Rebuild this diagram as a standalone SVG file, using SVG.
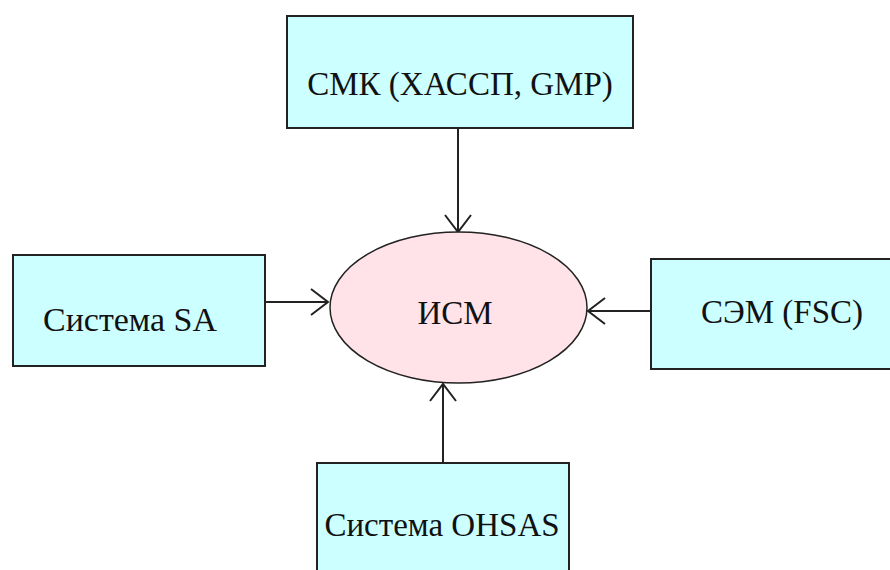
<svg xmlns="http://www.w3.org/2000/svg" width="890" height="570" viewBox="0 0 890 570">
  <defs>
    <marker id="v" markerUnits="userSpaceOnUse" markerWidth="40" markerHeight="40" viewBox="-20 -20 40 40" refX="0" refY="0" orient="auto" overflow="visible">
      <path d="M-17,-13 L0,0 L-17,13" fill="none" stroke="#222" stroke-width="2"/>
    </marker>
  </defs>
  <style>
    .box { fill: #ccffff; stroke: #222; stroke-width: 2; }
    .ell { fill: #ffe3e8; stroke: #222; stroke-width: 1.5; }
    .lbl { font-family: "Liberation Serif", "Times New Roman", serif; font-size: 33px; fill: #111; text-anchor: middle; }
    .edge { stroke: #222; stroke-width: 2; fill: none; marker-end: url(#v); }
  </style>
  <rect width="890" height="570" fill="#ffffff"/>
  <g id="connectors">
    <line class="edge" x1="458" y1="128" x2="458" y2="232"/>
    <line class="edge" x1="265" y1="302" x2="328" y2="302"/>
    <line class="edge" x1="651" y1="311" x2="588" y2="311"/>
    <line class="edge" x1="443" y1="463" x2="443" y2="384"/>
  </g>
  <g id="n_top">
    <rect class="box" x="287" y="16" width="346" height="112"/>
    <text class="lbl" x="460" y="95">СМК (ХАССП, GMP)</text>
  </g>
  <g id="n_left">
    <rect class="box" x="13" y="255" width="252" height="111"/>
    <text class="lbl" x="130" y="331" textLength="174" lengthAdjust="spacingAndGlyphs">Система SA</text>
  </g>
  <g id="n_center">
    <ellipse class="ell" cx="458.5" cy="307.5" rx="128.5" ry="75.5"/>
    <text class="lbl" x="455" y="324">ИСМ</text>
  </g>
  <g id="n_right">
    <rect class="box" x="651" y="259" width="250" height="110"/>
    <text class="lbl" x="782" y="323">СЭМ (FSC)</text>
  </g>
  <g id="n_bottom">
    <rect class="box" x="317" y="463" width="252" height="120"/>
    <text class="lbl" x="442" y="536">Система OHSAS</text>
  </g>
</svg>
